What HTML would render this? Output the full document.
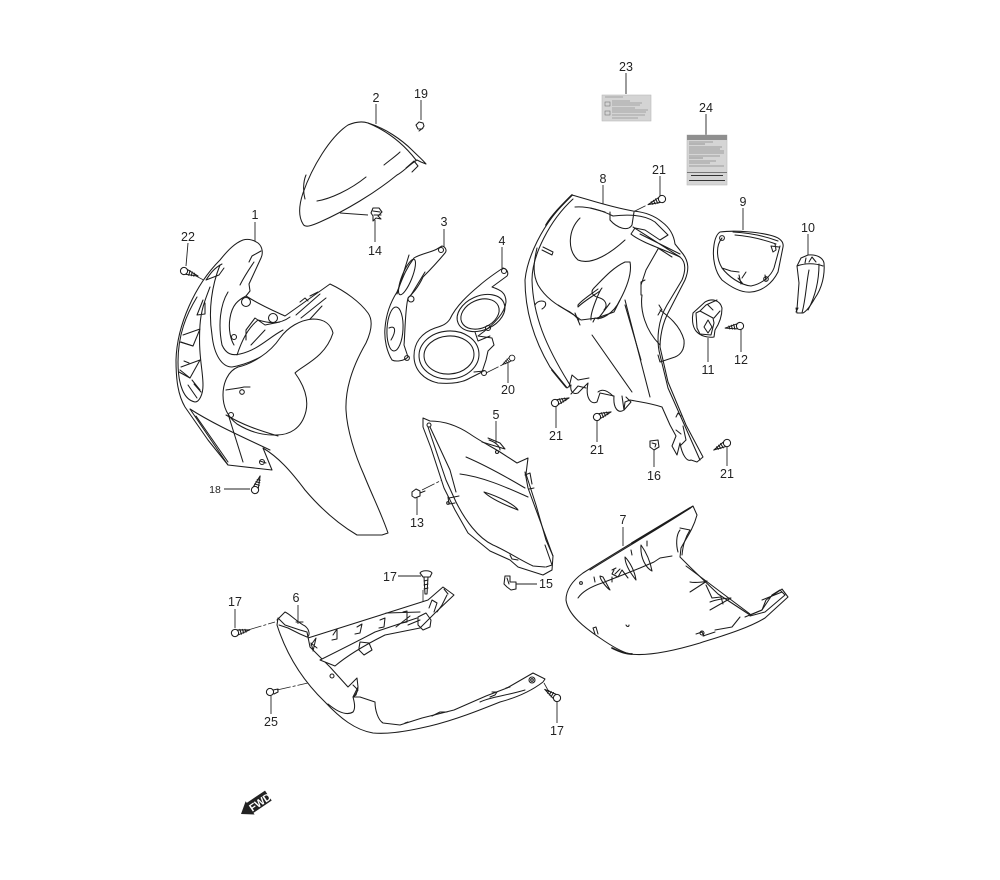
<!DOCTYPE html>
<html><head><meta charset="utf-8"><title>Parts diagram</title>
<style>
html,body{margin:0;padding:0;background:#fff}
svg{display:block;filter:blur(.3px)}
text{font-family:"Liberation Sans",sans-serif;font-size:12.5px;fill:#222;text-anchor:middle}
.p path,.p ellipse,.p circle,.p line{fill:none;stroke:#1c1c1c;stroke-width:1.05;stroke-linejoin:round;stroke-linecap:round}
.p path.k{stroke-width:1.7}
.w{fill:#fff!important}
.l line{stroke:#222;stroke-width:.9}
.d line{stroke:#222;stroke-width:.8;stroke-dasharray:14 2 3 2}
</style></head><body>
<svg width="1000" height="880" viewBox="0 0 1000 880" xmlns="http://www.w3.org/2000/svg">
<defs>
<g id="screw" class="p"><path class="w" d="M3 -2.500L15 0L3 2.500Z"/><path d="M5.500 -2.500L6 2.500M8 -2L8.500 2M10.500 -1.500L11 1.500"/><circle cx="0" cy="0" r="3.6" class="w"/></g>
</defs>
<rect width="1000" height="880" fill="#fff"/>
<g class="l">
<line x1="255" y1="222" x2="255" y2="243"/><line x1="376" y1="104" x2="376" y2="124"/><line x1="421" y1="100" x2="421" y2="120"/><line x1="188" y1="243" x2="186" y2="266"/>
<line x1="375" y1="242" x2="375" y2="220"/><line x1="340" y1="213" x2="368" y2="215"/><line x1="444" y1="229" x2="444" y2="248"/><line x1="502" y1="247" x2="502" y2="268"/><line x1="508" y1="383" x2="508" y2="360"/>
<line x1="626" y1="73" x2="626" y2="94"/><line x1="706" y1="114" x2="706" y2="136"/><line x1="660" y1="176" x2="660" y2="197"/><line x1="603" y1="185" x2="603" y2="209"/><line x1="743" y1="208" x2="743" y2="230"/><line x1="808" y1="234" x2="808" y2="256"/>
<line x1="741" y1="352" x2="741" y2="328"/><line x1="708" y1="362" x2="708" y2="338"/><line x1="556" y1="428" x2="556" y2="405"/><line x1="597" y1="442" x2="597" y2="420"/><line x1="654" y1="467" x2="654" y2="446"/><line x1="727" y1="466" x2="727" y2="443"/>
<line x1="496" y1="421" x2="496" y2="444"/><line x1="417" y1="515" x2="417" y2="494"/><line x1="224" y1="489" x2="250" y2="489"/><line x1="537" y1="584" x2="514" y2="584"/><line x1="398" y1="576" x2="421" y2="576"/>
<line x1="235" y1="609" x2="235" y2="628"/><line x1="298" y1="605" x2="298" y2="624"/><line x1="271" y1="714" x2="271" y2="696"/><line x1="557" y1="723" x2="557" y2="698"/><line x1="623" y1="527" x2="623" y2="546"/>
</g>
<g class="d">
<line x1="196" y1="276" x2="245" y2="302"/><line x1="422" y1="490" x2="498" y2="452"/><line x1="486" y1="373" x2="502" y2="365"/>
<line x1="248" y1="630" x2="275" y2="622"/><line x1="277" y1="690" x2="330" y2="678"/><line x1="423" y1="590" x2="423" y2="622"/><line x1="544" y1="683" x2="549" y2="692"/>
<line x1="633" y1="212" x2="647" y2="205"/>
</g>

<g class="p">
<!-- part 2 -->
<path class="w" d="M348 125C355 122 362 121 368 123C385 128 402 140 412 150C418 156 423 160 426 164L421 162L417 160C410 164 403 172 397 175C375 193 345 211 320 222C311 226 305 228 303 224C298 216 299 205 303 193C312 167 330 137 348 125Z"/>
<path d="M368 123C385 130 402 142 416 160M384 165C390 160 396 156 400 152M317 201C330 199 350 190 366 177M306 175C303 182 303 192 305 199"/>
<path d="M406 168L414 161L418 166L412 172"/>
<!-- part 1 -->
<path class="w" d="M243 240C250 238 255 241 258 243C263 247 263 254 261 258L249 284L250 291L246 296C260 305 272 310 285 316L330 284C345 291 360 302 368 313C373 320 372 330 366 343C355 362 345 385 346 410C347 430 355 455 364 475C372 495 382 515 388 533L382 535L357 535C340 525 322 510 305 490C290 470 278 457 263 448L272 470L228 465L208 440L185 407C178 395 176 380 176 360C177 325 195 285 220 260C228 250 235 243 243 240Z"/>
<path d="M190 409C215 425 245 438 270 450"/>
<path d="M220 265C212 285 208 310 212 335C214 355 222 367 232 367C262 362 285 340 300 330L322 306"/>
<path d="M246 296C238 300 232 305 230 318C228 330 231 340 234 345M228 292C220 305 218 325 222 345C226 354 232 356 240 354C258 350 268 338 283 330"/>
<path d="M237 355C242 340 248 328 258 320C265 322 278 326 290 317M246 340L246 330L255 318L265 325L280 322M251 345L265 330"/>
<circle cx="246" cy="302" r="4.5" class="w"/><circle cx="273" cy="318" r="4.5" class="w"/><circle cx="234" cy="337" r="2.5"/>
<path d="M296 315L320 294M301 318L326 298M300 302L305 298L308 301M310 296L318 292"/>
<path d="M249 262L252 256L261 251M240 285C245 275 250 268 254 262"/>
<path class="w" d="M333 333C331 325 325 319 313 319C300 320 288 327 280 338C270 353 252 364 238 367C228 371 223 383 223 395C223 408 228 417 237 424C250 432 262 435 273 435C290 436 302 428 306 411C309 397 303 384 295 373C303 365 325 358 333 333Z"/>
<path d="M226 390C232 389 240 388 244 387L250 387M229 417L243 462M226 415C243 425 258 430 278 436"/>
<circle cx="242" cy="392" r="2.3"/><circle cx="231" cy="415" r="2.5"/><circle cx="262" cy="462" r="2.5"/><path d="M260 461L266 463"/>
<path d="M190 409L228 465M196 416L228 462"/>
<path d="M197 297C186 315 178 335 178 362C178 385 184 400 195 402C199 402 203 395 203 385C203 370 198 355 200 325C201 310 205 300 210 287M222 264C214 268 210 274 206 280L219 275L224 268M203 300L197 315L205 314L205 303M183 335L200 329L193 346L180 342M181 367L200 360L190 378L180 370M192 380L200 390M188 385L197 398M194 384L201 392"/>
<path d="M181 342L193 346M179 372L190 378M184 361L189 363"/>
<!-- part 3 -->
<path class="w" d="M442 246C446 247 447 251 445 253C440 259 430 270 423 277C418 288 412 294 408 298C405 310 405 335 404 345L408 357C404 361 396 362 392 360C387 352 384 340 385 328C386 315 390 303 397 292C402 280 405 270 414 258C420 254 432 252 437 249Z"/>
<ellipse cx="395" cy="329" rx="8" ry="22" transform="rotate(3 395 329)"/><ellipse cx="407" cy="277" rx="5" ry="19" transform="rotate(22 407 277)"/>
<path d="M389 328C395 325 397 330 391 340M409 255L397 294M425 272L411 295"/>
<circle cx="441" cy="250" r="2.5"/><circle cx="411" cy="299" r="3"/><circle cx="407" cy="358" r="2.4"/>
<!-- part 4 -->
<path class="w" d="M503 268C507 269 509 273 507 276L492 287C501 290 506 293 506 302C505 314 492 326 478 336L492 338L494 345L488 351L486 360L482 372L470 378C462 383 450 384 438 383C424 380 414 370 414 356C414 343 421 333 435 328C441 326 446 325 450 319C456 306 468 295 480 285C488 278 497 272 503 268Z"/>
<ellipse cx="449" cy="355" rx="25" ry="19" transform="rotate(-4 449 355)"/><ellipse cx="449" cy="355" rx="30" ry="24" transform="rotate(-4 449 355)"/>
<ellipse cx="480" cy="314" rx="20" ry="14" transform="rotate(-24 480 314)"/><ellipse cx="481" cy="313" rx="25" ry="17" transform="rotate(-24 481 313)"/>
<path d="M475 332L478 341L490 336M474 372L484 371"/><circle cx="504" cy="271" r="2.500"/><circle cx="488" cy="328" r="2.500"/><circle cx="484" cy="373" r="2.500"/>
<!-- part 5 -->
<path class="w" d="M423 418L430 421C445 421 458 426 470 434C480 441 492 447 500 452L517 463L528 458L526 474L536 505L546 540L553 556L552 570L543 575L518 567L510 560L490 551L468 533L455 510L444 488L431 448L423 427Z"/>
<path d="M428 427L446 480L456 502C465 520 478 538 493 545C505 550 520 560 533 566L545 567M430 427L450 470L456 492M489 440C495 442 500 446 500 450M482 442L505 449L500 443L488 438M466 457C480 463 503 475 525 488M460 474C485 477 512 490 528 497M484 492C500 497 515 505 518 510C505 505 490 498 484 492M525 472L528 488L553 556"/>
<path d="M459 496L449 498M448 497L449 504L455 503M529 489L534 488M525 475L530 473L532 484M545 545L552 565L546 567M510 555L512 559L518 560"/>
<circle cx="429" cy="425" r="2"/><circle cx="497" cy="452" r="1.500"/><circle cx="448" cy="503" r="1.300"/>
<!-- part 8 -->
<path class="w" d="M572 195C590 200 610 207 633 211C645 212 655 216 662 222C670 228 674 236 675 244L683 254C689 262 689 270 685 280L667 315C660 330 660 345 660 347L668 382L686 425L703 457L697 462L691 460C687 462 682 455 680 443L677 455L672 446L676 436L670 425L662 407C650 403 640 402 630 400L625 402L624 410C618 414 613 408 614 396L600 393L597 402C591 405 585 398 588 383L583 388L578 393C572 395 570 390 571 385L567 388L550 367C537 345 525 315 525 280C527 260 540 225 572 195Z"/>
<path class="k" d="M572 195C562 205 552 215 546 225M552 370L566 387"/>
<path d="M573 199C550 220 532 255 532 280C533 315 545 345 570 385"/>
<path d="M575 207C590 206 605 212 613 216C630 214 645 215 655 222L668 235L660 240L645 230L635 228L631 234C640 242 665 250 680 257C686 262 686 270 682 280L667 305C658 320 656 340 660 355L668 388L700 460"/>
<path d="M633 227L680 257M640 234L680 254M610 212L610 220C617 228 628 232 632 225L634 212M590 208L605 212"/>
<path d="M580 218C568 230 567 250 578 260C592 266 612 252 625 240M594 288C602 280 612 268 625 262L630 262C632 272 628 285 620 300C613 315 600 320 595 318L593 322"/>
<path d="M594 288C590 292 592 296 600 298C606 300 608 306 604 310M598 289C590 295 582 300 578 305L578 307C584 301 596 294 600 291"/>
<path d="M537 248C533 265 533 275 538 285C545 297 556 305 570 312L581 320L597 318L614 312L620 300M543 247L553 252L552 255L542 250"/>
<path d="M558 305L574 315L579 320M575 313L580 325M591 320C590 312 600 290 602 288M598 319L610 303"/>
<path d="M658 248L672 257M625 305L641 360M658 249L646 270L641 285L641 295M645 280L641 282L641 293M642 295C640 310 645 330 660 345"/>
<path d="M660 310C668 316 680 325 684 340C685 350 680 355 675 357L660 362L658 355M661 310L658 315M662 310L659 305"/>
<path d="M592 335L632 392M625 300L650 397"/>
<path d="M535 305C537 301 542 300 545 302C547 305 544 308 542 309"/>
<path d="M569 387L572 375L578 380L589 378M586 388L578 386L571 394M598 392C603 388 609 392 613 396M626 397L631 402L624 410L622 396"/>
<path d="M676 417L678 413L681 416M676 430L681 434M681 445L686 440L683 426"/>
<!-- part 9 -->
<path class="w" d="M720 232C735 230 760 232 773 236C780 238 784 242 783 247L778 272C772 284 762 291 751 292C742 293 732 288 722 280C715 272 712 258 714 245C715 238 717 234 720 232Z"/>
<path d="M722 238C716 245 716 258 722 268C728 276 740 285 751 286C762 284 771 276 774 268L780 246M733 232C750 233 765 236 778 241M735 235C748 236 762 239 776 244M722 268L731 271L739 272"/>
<path d="M738 278L743 284M739 275L741 284M742 278L746 272"/><circle cx="722" cy="238" r="2.400"/><path d="M775 244L776 250L773 252L771 246L779 247"/><circle cx="766" cy="279" r="2.300"/><path d="M765 275L766 280"/>
<!-- part 10 -->
<path class="w" d="M797 266L801 258L808 255C817 254 823 258 824 263C825 275 822 288 815 298C811 305 807 311 803 313L797 313L796 308L797 309L799 283L797 266Z"/>
<path d="M797 266C805 263 815 263 823 266M805 263L806 258M809 262L812 257L816 262M809 270C806 285 806 298 802 313M819 264C819 280 816 295 808 310M798 308L796 312"/>
<!-- part 11 -->
<path class="w" d="M693 313L705 302C712 298 720 300 722 308C722 316 719 324 715 330L714 337C708 338 700 336 696 331C692 326 692 318 693 313Z"/>
<path d="M696 313L700 311L713 318L714 323L711 335L700 334L697 328ZM700 311L706 305L717 300M714 318L720 311M704 327L708 320L712 327L708 333L704 327M708 305L713 310"/>
<!-- part 6 -->
<path class="w" d="M277 625C285 650 300 678 325 702C340 718 355 730 373 733C385 734 400 733 430 726C455 720 480 710 500 702C515 698 530 692 543 682L545 679L533 673L507 688L486 696L454 710L422 718L400 725L383 723C378 720 375 710 375 702L360 697L353 697L358 687L357 678L348 687L330 667L310 647L307 632L300 630L285 625L278 618Z"/>
<path d="M277 620L285 612C290 614 297 622 305 626C310 630 310 636 307 637L300 634L288 628L279 625M328 704C340 714 348 715 353 712C356 708 354 701 353 697L356 695L358 688M296 622L303 622"/>
<path class="w" d="M308 638L387 613L428 600L443 587L454 595L436 612L420 628L385 635C365 645 348 655 335 666L330 664L320 660C340 650 360 640 375 632L417 618"/>
<path d="M311 645L316 638L313 651M313 650L311 643L317 648M333 635L337 629L337 639L332 640M357 627L362 624L360 633L355 634M380 620L385 618L384 627L379 628M403 612L407 611L407 622L402 623M396 627L410 616M386 613L420 612M408 625L420 620"/>
<path d="M418 617L426 613L431 620L430 627L423 630L418 625ZM359 648L360 642L369 643L372 650L364 655L359 650ZM429 608L432 600L437 603L434 612M437 612L442 605L447 595M444 589L448 594"/>
<circle cx="332" cy="676" r="2"/><path d="M353 685L358 690L354 697L360 697M506 688L510 687M490 697L495 695L497 692L492 692M432 716L440 712L447 712M405 723L408 722"/><circle cx="532" cy="680" r="3"/><circle cx="532" cy="680" r="1.300"/>
<path d="M480 702C490 697 505 696 525 690"/>
<!-- part 7 -->
<path class="w" d="M693 506C665 523 620 550 583 573C572 581 566 590 566 600C568 615 585 628 600 638C610 645 622 652 630 654C645 656 670 652 700 643C715 638 745 630 765 618L788 597L782 589L766 600L762 610L750 615L718 594L690 567L680 557L681 548C685 540 693 530 697 515Z"/>
<path class="k" d="M690 508C670 520 650 532 632 543M612 648C620 652 626 654 632 654"/>
<path d="M692 507C665 525 625 548 590 570M578 598C582 592 590 587 602 583L625 574L640 568L654 562L660 558L672 556"/>
<path d="M600 576C600 580 607 588 610 590L603 577ZM625 557C625 565 632 575 636 580C635 572 630 562 625 557ZM641 545C640 558 646 568 652 571C650 560 646 552 641 545Z"/>
<path d="M614 570L612 574L618 577L622 570L628 578M615 574L620 569M612 577L612 582M612 570L616 568"/>
<path d="M680 530C676 535 676 545 678 552M680 528L690 530C685 538 683 545 682 555"/>
<path d="M686 566L750 614M690 582C695 583 705 582 707 581L690 592M710 602C715 600 725 598 731 598L710 610M706 585L712 598L721 597L723 604"/>
<path d="M745 617L762 610L772 595L780 590L785 595L765 612L750 616M762 600L782 592"/>
<path d="M595 634L593 628L596 627L598 634"/><path d="M626 625C627 627 629 627 629 625"/>
<path d="M696 634L702 632L704 636M703 636L715 632M715 630L732 627L740 617"/><circle cx="702" cy="633" r="2"/>
<circle cx="581" cy="583" r="1.400"/><path d="M594 577L595 582M631 550L632 555M647 541L647 546"/>
<!-- small fasteners -->
<path class="w" d="M371 213L373 208L379 208L382 212L378 216L381 219L376 218L373 221L373 216Z"/><path d="M373 211L380 212M374 215L381 215"/>
<path class="w" d="M416 125L419 122L423 123L424 126L422 129L418 129Z"/><path d="M419 131L423 128"/>
<path class="w" d="M412 492L416 489L420 491L420 496L415 498L412 496Z"/><path d="M420 493L425 491"/>
<path class="w" d="M505 576L510 576L510 582L516 582L516 589L511 590L507 587L504 584Z"/><path d="M507 578L509 584"/>
<path class="w" d="M650 441L658 440L659 447L654 450L650 447Z"/><path d="M652 443L656 444L655 447"/>
<path class="w" d="M420 573C422 570 430 570 432 573L430 577L423 577Z"/><path d="M424 577L425 594L427 594L428 577M424 581L428 580M424 585L428 584M424 589L428 588"/>
<!-- 25 bolt -->
<circle cx="270" cy="692" r="3.600" class="w"/><path d="M273 690L278 689L278 692L274 694"/>
</g>
<!-- screws: head at translate point, tip along rotated +x -->
<use href="#screw" transform="translate(184 271) rotate(20)"/>
<use href="#screw" transform="translate(662 199) rotate(158)"/>
<use href="#screw" transform="translate(512 358) rotate(145) scale(.8)"/>
<use href="#screw" transform="translate(555 403) rotate(-20)"/>
<use href="#screw" transform="translate(597 417) rotate(-20)"/>
<use href="#screw" transform="translate(727 443) rotate(152)"/>
<use href="#screw" transform="translate(740 326) rotate(172)"/>
<use href="#screw" transform="translate(255 490) rotate(-70)"/>
<use href="#screw" transform="translate(235 633) rotate(-12)"/>
<use href="#screw" transform="translate(557 698) rotate(215)"/>
<!-- decal 23 -->
<rect x="602" y="95" width="49" height="26" fill="#d4d4d4" stroke="#bbb" stroke-width=".6"/>
<g stroke="#777" stroke-width=".6">
<line x1="605" y1="97" x2="623" y2="97"/><line x1="612" y1="101" x2="630" y2="101"/><line x1="612" y1="103" x2="642" y2="103"/><line x1="612" y1="105" x2="640" y2="105"/><line x1="612" y1="108" x2="635" y2="108"/><line x1="612" y1="110" x2="648" y2="110"/><line x1="612" y1="112" x2="646" y2="112"/><line x1="612" y1="115" x2="645" y2="115"/><line x1="612" y1="118" x2="638" y2="118"/>
</g>
<rect x="605" y="102" width="5" height="4" fill="none" stroke="#777" stroke-width=".6"/><rect x="605" y="111" width="5" height="4" fill="none" stroke="#777" stroke-width=".6"/>
<!-- decal 24 -->
<rect x="687" y="135" width="40" height="50" fill="#d5d5d5" stroke="#bbb" stroke-width=".6"/>
<rect x="687" y="135" width="40" height="5" fill="#8f8f8f"/>
<g stroke="#666" stroke-width=".6">
<line x1="689" y1="142" x2="713" y2="142"/><line x1="689" y1="144" x2="705" y2="144"/><line x1="689" y1="147" x2="722" y2="147"/><line x1="689" y1="149" x2="720" y2="149"/><line x1="689" y1="151" x2="724" y2="151"/><line x1="689" y1="153" x2="724" y2="153"/><line x1="689" y1="156" x2="720" y2="156"/><line x1="689" y1="158" x2="703" y2="158"/><line x1="689" y1="161" x2="716" y2="161"/><line x1="689" y1="163" x2="710" y2="163"/><line x1="689" y1="166" x2="724" y2="166"/>
</g>
<rect x="687" y="172" width="40" height="1" fill="#777"/>
<g stroke="#333" stroke-width=".9"><line x1="691" y1="175.500" x2="723" y2="175.500"/><line x1="689" y1="180.500" x2="725" y2="180.500"/></g>
<!-- FWD arrow -->
<g transform="translate(241 814) rotate(-34)">
<path d="M0 0L11 -8L11 -6L33 -6L33 6L11 6L11 8Z" fill="#222"/>
<text x="22.500" y="4.500" style="font-size:10.500px;font-weight:bold;fill:#fff">FWD</text>
</g>
<!-- labels -->
<g>
<text x="255" y="219">1</text><text x="376" y="102">2</text><text x="421" y="98">19</text><text x="188" y="241">22</text><text x="375" y="255">14</text>
<text x="444" y="226">3</text><text x="502" y="245">4</text><text x="508" y="394">20</text><text x="626" y="71">23</text><text x="706" y="112">24</text>
<text x="659" y="174">21</text><text x="603" y="183">8</text><text x="743" y="206">9</text><text x="808" y="232">10</text><text x="741" y="364">12</text><text x="708" y="374">11</text>
<text x="556" y="440">21</text><text x="597" y="454">21</text><text x="654" y="480">16</text><text x="727" y="478">21</text><text x="496" y="419">5</text><text x="417" y="527">13</text>
<text x="215" y="493" style="font-size:10.500px">18</text><text x="546" y="588">15</text><text x="390" y="581">17</text><text x="235" y="606">17</text><text x="296" y="602">6</text>
<text x="271" y="726">25</text><text x="557" y="735">17</text><text x="623" y="524">7</text>
</g>
</svg>
</body></html>
